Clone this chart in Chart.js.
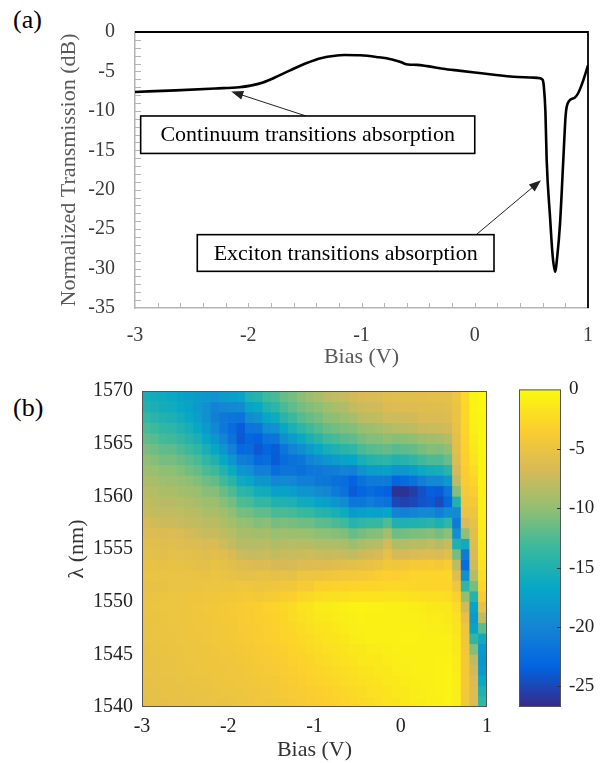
<!DOCTYPE html>
<html>
<head>
<meta charset="utf-8">
<script src="https://cdn.jsdelivr.net/npm/chart.js@4.4.0/dist/chart.umd.min.js"></script>
<style>
  body { margin: 0; background: #fff; width: 615px; height: 763px; position: relative; overflow: hidden;
         font-family: 'Liberation Serif', 'DejaVu Serif', serif; }
  canvas { position: absolute; }
  .tag { position: absolute; font-size: 26px; line-height: 1; color: #000; }
</style>
</head>
<body>
<div class="tag" style="left:13px; top:7px;">(a)</div>
<canvas id="transChart" width="615" height="370" style="left:0; top:0;"></canvas>
<div class="tag" style="left:13px; top:395px;">(b)</div>
<canvas id="mapChart" width="500" height="393" style="left:0; top:370px;"></canvas>
<canvas id="barChart" width="125" height="393" style="left:490px; top:370px;"></canvas>
<script>
/*
  Panel (a): transmission vs bias
*/
var biasLine = [-3, -2.64, -2.29, -2.08, -1.98, -1.87, -1.77, -1.63, -1.49, -1.36, -1.25, -1.15, -1.01, -0.87,
  -0.73, -0.65, -0.59, -0.51, -0.42, -0.28, -0.14, 0, 0.17, 0.34, 0.52, 0.576, 0.6, 0.61, 0.624, 0.635,
  0.665, 0.688, 0.709, 0.729, 0.753, 0.782, 0.803, 0.826, 0.885, 0.915, 0.959, 1.0];
var transLine = [-7.6, -7.4, -7.16, -7.0, -6.8, -6.4, -5.8, -4.86, -3.97, -3.32, -3.04, -2.91, -2.95, -3.16,
  -3.48, -3.85, -4.13, -4.17, -4.33, -4.65, -4.9, -5.14, -5.42, -5.67, -5.79, -5.87, -6.07, -6.9, -10.1, -16.2,
  -23.5, -28.4, -30.4, -28.4, -24.3, -16.2, -10.5, -8.9, -8.3, -7.7, -6.1, -4.25];

/*
  Panel (b): transmission map, one column per bias step, rows from 1569.5 nm down to 1540.5 nm
*/
var biasCenters = [-2.95, -2.85, -2.75, -2.65, -2.55, -2.45, -2.35, -2.25, -2.15, -2.05,
  -1.95, -1.85, -1.75, -1.65, -1.55, -1.45, -1.35, -1.25, -1.15, -1.05,
  -0.95, -0.85, -0.75, -0.65, -0.55, -0.45, -0.35, -0.25, -0.15, -0.05,
  0.05, 0.15, 0.25, 0.35, 0.45, 0.55, 0.65, 0.75, 0.85, 0.95];
var lambdaCenters = [1569.5, 1568.5, 1567.5, 1566.5, 1565.5, 1564.5, 1563.5, 1562.5, 1561.5, 1560.5,
  1559.5, 1558.5, 1557.5, 1556.5, 1555.5, 1554.5, 1553.5, 1552.5, 1551.5, 1550.5,
  1549.5, 1548.5, 1547.5, 1546.5, 1545.5, 1544.5, 1543.5, 1542.5, 1541.5, 1540.5];
var mapColumns = [
  [-15.5,-14.8,-13.8,-12.8,-11.8,-10.9,-10.1,-9.4,-8.8,-8.2,-7.8,-7.4,-6.7,-6.2,-5.8,-5.6,-5.3,-5.1,-5.4,-5.2,-5.1,-5.1,-5.2,-5.2,-5.3,-5.3,-5.4,-5.5,-5.5,-5.6],
  [-16.0,-15.3,-14.4,-13.3,-12.3,-11.4,-10.5,-9.7,-9.0,-8.5,-8.1,-7.7,-7.1,-6.3,-5.9,-5.7,-5.4,-5.2,-5.3,-5.1,-5.0,-5.1,-5.1,-5.1,-5.2,-5.3,-5.3,-5.4,-5.5,-5.5],
  [-16.2,-15.7,-14.8,-13.9,-12.9,-11.9,-11.0,-10.1,-9.4,-8.8,-8.3,-7.8,-7.3,-6.5,-6.0,-5.8,-5.5,-5.2,-5.3,-5.0,-4.9,-5.0,-5.0,-5.0,-5.1,-5.2,-5.2,-5.3,-5.4,-5.5],
  [-16.5,-16.0,-15.2,-14.2,-13.1,-12.0,-11.0,-10.2,-9.5,-8.8,-8.3,-7.8,-7.3,-6.4,-5.9,-5.6,-5.3,-5.1,-5.2,-4.9,-4.9,-4.9,-4.9,-5.0,-5.0,-5.1,-5.2,-5.3,-5.3,-5.4],
  [-17.0,-16.6,-15.8,-14.8,-13.7,-12.6,-11.5,-10.6,-9.8,-9.1,-8.5,-7.9,-7.5,-6.6,-6.1,-5.7,-5.4,-5.1,-5.2,-4.9,-4.8,-4.8,-4.9,-4.9,-5.0,-5.0,-5.1,-5.2,-5.3,-5.4],
  [-17.5,-17.3,-16.6,-15.6,-14.5,-13.3,-12.1,-11.2,-10.2,-9.4,-8.7,-8.1,-7.7,-6.9,-6.2,-5.7,-5.5,-5.2,-5.1,-4.8,-4.7,-4.7,-4.8,-4.8,-4.9,-4.9,-5.0,-5.1,-5.2,-5.3],
  [-17.9,-18.1,-17.5,-16.6,-15.4,-14.1,-12.8,-11.7,-10.7,-9.7,-9.0,-8.4,-7.9,-7.1,-6.3,-5.8,-5.6,-5.2,-5.0,-4.7,-4.6,-4.6,-4.6,-4.7,-4.8,-4.8,-4.9,-5.0,-5.1,-5.2],
  [-18.2,-19.0,-18.9,-18.1,-16.9,-15.4,-13.9,-12.6,-11.4,-10.4,-9.5,-8.8,-8.2,-7.6,-6.6,-6.1,-5.7,-5.3,-4.9,-4.6,-4.4,-4.5,-4.5,-4.6,-4.7,-4.7,-4.8,-5.0,-5.1,-5.2],
  [-18.6,-20.2,-20.6,-19.9,-18.5,-16.9,-15.0,-13.3,-11.9,-10.6,-9.6,-8.8,-8.1,-7.5,-6.5,-5.8,-5.3,-5.0,-4.9,-4.5,-4.3,-4.3,-4.4,-4.4,-4.5,-4.7,-4.8,-4.9,-5.0,-5.1],
  [-17.8,-20.0,-21.3,-21.3,-20.3,-18.5,-16.6,-14.7,-13.1,-11.6,-10.4,-9.4,-8.6,-8.0,-7.2,-6.1,-5.5,-5.2,-4.8,-4.4,-4.1,-4.2,-4.3,-4.3,-4.4,-4.6,-4.7,-4.8,-4.9,-5.1],
  [-17.6,-19.8,-21.7,-22.5,-21.9,-20.4,-18.4,-16.3,-14.3,-12.6,-11.2,-10.1,-9.2,-8.4,-7.7,-6.7,-5.9,-5.3,-4.7,-4.3,-4.0,-4.1,-4.1,-4.2,-4.3,-4.5,-4.6,-4.7,-4.9,-5.0],
  [-17.1,-19.4,-21.8,-23.7,-23.9,-22.8,-20.8,-18.5,-16.1,-14.2,-12.5,-11.0,-9.9,-9.0,-8.3,-7.4,-6.2,-5.5,-4.6,-4.1,-3.8,-3.9,-3.9,-4.0,-4.2,-4.3,-4.5,-4.6,-4.7,-4.9],
  [-15.0,-17.0,-19.4,-21.7,-23.0,-22.6,-21.1,-19.0,-16.7,-14.6,-12.8,-11.2,-10.0,-9.0,-8.3,-7.6,-6.3,-5.5,-4.5,-4.0,-3.6,-3.7,-3.8,-3.8,-4.0,-4.2,-4.3,-4.5,-4.6,-4.8],
  [-14.6,-16.5,-18.8,-21.4,-23.5,-24.0,-22.8,-20.7,-18.3,-15.8,-13.7,-11.8,-10.5,-9.3,-8.4,-7.6,-6.5,-5.4,-4.8,-4.1,-3.4,-3.5,-3.6,-3.7,-3.8,-4.0,-4.2,-4.3,-4.5,-4.6],
  [-13.2,-14.8,-16.8,-19.3,-21.8,-23.0,-22.4,-20.7,-18.4,-15.9,-13.8,-11.9,-10.3,-9.1,-8.2,-7.4,-6.4,-5.3,-4.7,-4.0,-3.2,-3.3,-3.4,-3.5,-3.7,-3.9,-4.0,-4.2,-4.4,-4.5],
  [-12.8,-14.2,-16.2,-18.8,-21.6,-23.7,-23.8,-22.4,-20.0,-17.4,-14.9,-12.8,-11.1,-9.7,-8.6,-7.8,-6.8,-5.5,-4.6,-3.8,-3.0,-3.1,-3.2,-3.3,-3.5,-3.7,-3.9,-4.1,-4.2,-4.4],
  [-11.6,-12.8,-14.4,-16.6,-19.2,-21.6,-22.5,-21.6,-19.6,-17.2,-14.8,-12.6,-10.8,-9.4,-8.3,-7.5,-6.8,-5.4,-4.4,-3.5,-2.6,-2.8,-2.9,-3.0,-3.3,-3.5,-3.7,-3.9,-4.0,-4.2],
  [-11.0,-11.9,-13.3,-15.2,-17.7,-20.3,-21.9,-21.6,-20.0,-17.6,-15.1,-12.9,-11.0,-9.6,-8.4,-7.5,-6.7,-5.5,-4.3,-3.3,-2.3,-2.4,-2.6,-2.8,-3.0,-3.2,-3.5,-3.7,-3.9,-4.0],
  [-10.3,-11.1,-12.3,-14.1,-16.5,-19.1,-21.4,-22.0,-20.7,-18.4,-15.9,-13.4,-11.3,-9.6,-8.3,-7.3,-6.4,-4.9,-3.9,-2.7,-1.9,-2.1,-2.3,-2.5,-2.8,-3.0,-3.2,-3.5,-3.7,-3.9],
  [-9.5,-10.6,-11.6,-13.1,-15.2,-17.7,-20.3,-21.5,-20.7,-18.6,-16.1,-13.5,-11.4,-9.7,-8.3,-7.2,-6.2,-4.8,-3.8,-2.5,-1.6,-1.8,-2.0,-2.3,-2.5,-2.8,-3.0,-3.2,-3.5,-3.7],
  [-9.0,-10.2,-11.1,-12.4,-14.3,-16.6,-19.4,-21.3,-21.3,-19.4,-17.0,-14.3,-12.0,-10.1,-8.6,-7.4,-6.3,-4.7,-3.2,-2.2,-1.2,-1.5,-1.7,-2.0,-2.3,-2.5,-2.8,-3.0,-3.3,-3.5],
  [-8.1,-9.4,-10.3,-11.5,-13.2,-15.5,-18.4,-20.9,-21.4,-20.0,-17.5,-14.7,-12.1,-10.2,-8.6,-7.5,-6.2,-4.6,-3.1,-2.1,-1.1,-1.3,-1.6,-1.8,-2.1,-2.3,-2.6,-2.8,-3.1,-3.3],
  [-7.9,-8.9,-10.1,-11.2,-12.8,-15.0,-17.8,-20.8,-22.0,-21.0,-18.4,-15.4,-12.7,-10.4,-8.7,-7.4,-6.0,-4.4,-3.0,-2.0,-1.0,-1.2,-1.4,-1.6,-1.9,-2.1,-2.4,-2.6,-2.9,-3.1],
  [-7.6,-8.6,-9.6,-10.8,-12.2,-14.3,-17.1,-20.2,-22.3,-21.9,-19.5,-16.2,-13.2,-10.7,-8.8,-7.5,-5.8,-4.2,-3.0,-1.9,-0.8,-1.0,-1.2,-1.4,-1.7,-1.9,-2.2,-2.4,-2.7,-2.9],
  [-7.0,-7.7,-9.2,-10.5,-11.9,-13.9,-16.8,-20.4,-23.4,-23.8,-21.4,-17.9,-14.5,-11.6,-9.5,-7.8,-5.7,-4.1,-2.9,-1.8,-0.7,-0.9,-1.0,-1.2,-1.5,-1.7,-2.0,-2.2,-2.5,-2.7],
  [-6.7,-7.3,-8.2,-9.8,-11.0,-12.8,-15.4,-18.8,-21.9,-23.0,-21.4,-17.5,-14.0,-11.0,-8.8,-7.3,-5.5,-4.0,-2.8,-1.7,-0.6,-0.7,-0.9,-1.0,-1.3,-1.5,-1.8,-2.0,-2.3,-2.5],
  [-6.6,-7.2,-8.0,-9.5,-10.6,-12.3,-14.7,-17.8,-21.1,-22.5,-20.8,-17.1,-13.6,-10.6,-8.5,-7.0,-5.3,-3.9,-2.8,-1.7,-0.7,-0.8,-0.8,-0.9,-1.2,-1.4,-1.6,-1.9,-2.1,-2.3],
  [-6.5,-7.0,-7.7,-9.2,-10.5,-12.0,-14.3,-17.6,-21.1,-23.0,-21.4,-17.4,-13.5,-10.4,-8.2,-6.7,-5.0,-3.5,-2.8,-1.7,-0.7,-0.8,-0.8,-0.9,-1.1,-1.3,-1.5,-1.7,-1.9,-2.1],
  [-6.0,-6.5,-7.2,-8.7,-10.1,-11.7,-14.1,-17.4,-21.2,-23.5,-21.9,-16.8,-12.4,-9.2,-6.9,-5.5,-4.3,-3.2,-2.7,-1.8,-0.8,-0.8,-0.8,-0.8,-1.0,-1.2,-1.3,-1.5,-1.7,-1.8],
  [-5.9,-6.4,-7.2,-8.4,-10.4,-12.2,-14.8,-18.5,-23.2,-26.3,-25.0,-20.3,-15.0,-11.3,-8.6,-6.9,-4.5,-3.3,-2.7,-1.8,-0.8,-0.8,-0.8,-0.8,-0.9,-1.0,-1.2,-1.3,-1.5,-1.6],
  [-5.9,-6.3,-7.1,-8.2,-10.3,-12.0,-14.5,-18.2,-22.7,-26.2,-25.3,-20.4,-15.1,-11.1,-8.5,-6.8,-4.4,-3.1,-2.7,-1.8,-0.9,-0.8,-0.8,-0.7,-0.8,-0.9,-1.0,-1.1,-1.3,-1.4],
  [-5.9,-6.2,-7.0,-8.1,-10.1,-11.7,-14.0,-17.5,-21.9,-25.5,-25.0,-20.2,-14.9,-10.8,-8.2,-6.5,-4.0,-2.9,-2.7,-1.9,-1.0,-0.9,-0.8,-0.7,-0.8,-0.9,-0.9,-1.0,-1.1,-1.2],
  [-5.8,-6.1,-6.6,-7.5,-9.6,-11.0,-13.1,-16.4,-20.6,-24.4,-24.3,-19.7,-14.7,-10.7,-8.1,-6.4,-4.0,-2.9,-2.8,-2.0,-1.1,-1.0,-0.9,-0.8,-0.8,-0.8,-0.8,-0.9,-1.0,-1.1],
  [-5.7,-6.0,-6.5,-7.4,-9.3,-10.6,-12.6,-15.7,-19.8,-23.6,-24.0,-19.7,-14.4,-10.4,-7.9,-6.2,-3.8,-2.8,-2.8,-2.0,-1.3,-1.1,-1.0,-0.8,-0.8,-0.8,-0.8,-0.8,-0.9,-0.9],
  [-5.7,-6.0,-6.5,-7.3,-9.1,-10.7,-12.6,-15.6,-19.7,-23.8,-24.8,-20.6,-15.2,-11.0,-8.3,-6.5,-4.1,-2.9,-2.9,-2.1,-1.4,-1.2,-1.0,-0.9,-0.8,-0.7,-0.7,-0.7,-0.7,-0.8],
  [-5.7,-5.9,-6.3,-7.0,-8.5,-10.1,-11.6,-14.3,-17.9,-21.7,-22.9,-19.3,-14.0,-10.2,-7.6,-5.9,-3.6,-2.7,-2.9,-2.2,-1.5,-1.3,-1.1,-0.9,-0.8,-0.7,-0.6,-0.6,-0.6,-0.6],
  [-4.8,-5.0,-5.2,-5.4,-5.6,-5.8,-6.2,-6.8,-8.0,-10.5,-15.0,-19.5,-21.0,-19.0,-15.0,-11.0,-8.0,-6.0,-4.5,-3.2,-2.4,-1.9,-1.6,-1.4,-1.3,-1.2,-1.1,-1.0,-1.0,-1.0],
  [-2.5,-2.6,-2.7,-2.8,-3.0,-3.1,-3.3,-3.5,-3.7,-4.0,-4.4,-5.0,-6.5,-10.0,-16.0,-21.0,-22.5,-19.0,-14.0,-10.0,-7.0,-5.5,-4.8,-4.5,-4.3,-4.2,-4.2,-4.2,-4.2,-4.3],
  [-0.5,-0.6,-0.7,-0.9,-1.1,-1.4,-1.8,-2.3,-2.9,-3.5,-4.2,-4.8,-5.3,-5.8,-6.2,-6.6,-7.2,-8.5,-11.0,-14.5,-17.0,-18.0,-17.0,-14.0,-10.5,-8.0,-7.0,-6.5,-6.4,-6.4],
  [-0.2,-0.2,-0.3,-0.3,-0.4,-0.4,-0.5,-0.5,-0.6,-0.7,-0.8,-0.9,-1.0,-1.1,-1.3,-1.5,-1.8,-2.2,-2.8,-3.8,-5.5,-8.0,-12.0,-16.0,-18.0,-18.5,-18.0,-16.5,-15.0,-14.0]
];

// colour bar range and ticks
var cbMin = -26.74;
var cbTicks = [-25, -20, -15, -10, -5, 0];
var parulaStops = ['#352a87', '#0363e1', '#1485d4', '#06a7c6', '#38b99e', '#92bf73', '#d9ba56', '#fcce2e', '#f9fb0e'];

var serif = "'Liberation Serif', 'DejaVu Serif', serif";
Chart.defaults.font.family = serif;

var parulaRgb = parulaStops.map(h => [parseInt(h.slice(1, 3), 16), parseInt(h.slice(3, 5), 16), parseInt(h.slice(5, 7), 16)]);

var parula = (v) => {
  var t = Math.max(0, Math.min(1, (v - cbMin) / (0 - cbMin))) * (parulaRgb.length - 1);
  var i = Math.min(Math.floor(t), parulaRgb.length - 2);
  var f = t - i;
  var a = parulaRgb[i], b = parulaRgb[i + 1];
  return 'rgb(' + [0, 1, 2].map(k => Math.round(a[k] + (b[k] - a[k]) * f)).join(',') + ')';
}

var arrowTo = (ctx, x1, y1, x2, y2) => {
  var ang = Math.atan2(y2 - y1, x2 - x1);
  var len = 12, half = 4.5;
  ctx.beginPath();
  ctx.moveTo(x1, y1);
  ctx.lineTo(x2 - Math.cos(ang) * len * 0.8, y2 - Math.sin(ang) * len * 0.8);
  ctx.stroke();
  ctx.beginPath();
  ctx.moveTo(x2, y2);
  ctx.lineTo(x2 - Math.cos(ang) * len - Math.sin(ang) * half, y2 - Math.sin(ang) * len + Math.cos(ang) * half);
  ctx.lineTo(x2 - Math.cos(ang) * len + Math.sin(ang) * half, y2 - Math.sin(ang) * len - Math.cos(ang) * half);
  ctx.closePath();
  ctx.fill();
}

/*
  panel (a) frame: grey inward ticks, black top/right edges, text boxes with arrows
*/
var frameA = {
  id: 'frameA',
  afterDatasetsDraw(chart, args, opts) {
    var ctx = chart.ctx, area = chart.chartArea, xs = chart.scales.x, ys = chart.scales.y;
    ctx.save();
    ctx.strokeStyle = '#b4b4b4';
    ctx.lineWidth = 1;
    ctx.beginPath();
    for (var v = -2.8; v < 0.99; v += 0.2) {
      var px = Math.round(xs.getPixelForValue(v)) + 0.5;
      ctx.moveTo(px, area.bottom);
      ctx.lineTo(px, area.bottom - 5);
    }
    for (var w = -34; w < 0; w += 1) {
      var py = Math.round(ys.getPixelForValue(w)) + 0.5;
      ctx.moveTo(area.left, py);
      ctx.lineTo(area.left + 6, py);
    }
    ctx.stroke();

    ctx.strokeStyle = '#000';
    ctx.lineWidth = 1.8;
    ctx.beginPath();
    ctx.moveTo(area.left, area.top);
    ctx.lineTo(area.right, area.top);
    ctx.lineTo(area.right, area.bottom);
    ctx.stroke();

    opts.notes.forEach(n => {
      ctx.strokeStyle = '#222';
      ctx.fillStyle = '#222';
      ctx.lineWidth = 1;
      arrowTo(ctx, xs.getPixelForValue(n.from[0]), ys.getPixelForValue(n.from[1]),
        xs.getPixelForValue(n.to[0]), ys.getPixelForValue(n.to[1]));
      var x0 = xs.getPixelForValue(n.box[0]), x1 = xs.getPixelForValue(n.box[1]);
      var y0 = ys.getPixelForValue(n.box[2]), y1 = ys.getPixelForValue(n.box[3]);
      ctx.fillStyle = '#fff';
      ctx.fillRect(x0, y0, x1 - x0, y1 - y0);
      ctx.strokeStyle = '#000';
      ctx.lineWidth = 1.6;
      ctx.strokeRect(x0, y0, x1 - x0, y1 - y0);
      ctx.fillStyle = '#000';
      ctx.font = '22px ' + serif;
      ctx.textAlign = 'center';
      ctx.textBaseline = 'middle';
      ctx.fillText(n.text, (x0 + x1) / 2, (y0 + y1) / 2 + 1);
    });
    ctx.restore();
  }
};

// thin box round a chart area, optional inward ticks on the right edge
var boxEdge = {
  id: 'boxEdge',
  afterDatasetsDraw(chart, args, opts) {
    var ctx = chart.ctx, area = chart.chartArea;
    ctx.save();
    ctx.strokeStyle = '#555';
    ctx.lineWidth = 1;
    ctx.strokeRect(area.left + 0.5, area.top + 0.5, area.right - area.left - 1, area.bottom - area.top - 1);
    if (opts.rightTicks) {
      ctx.strokeStyle = '#333';
      ctx.beginPath();
      opts.rightTicks.forEach(t => {
        var py = Math.round(chart.scales.y.getPixelForValue(t)) + 0.5;
        ctx.moveTo(area.right, py);
        ctx.lineTo(area.right - 4, py);
      });
      ctx.stroke();
    }
    ctx.restore();
  }
};

var plainLabel = (v) => String(v);

var transChart = new Chart(document.getElementById('transChart'), {
  type: 'line',
  data: {
    datasets: [{
      data: biasLine.map((b, i) => ({x: b, y: transLine[i]})),
      borderColor: '#000',
      borderWidth: 2.6,
      pointRadius: 0,
      cubicInterpolationMode: 'monotone',
      fill: false
    }]
  },
  options: {
    responsive: false,
    devicePixelRatio: 1,
    animation: false,
    layout: { padding: { left: 0, top: 20, right: 27, bottom: 0 } },
    plugins: {
      legend: { display: false },
      tooltip: { enabled: false },
      frameA: {
        notes: [
          { text: 'Continuum transitions absorption', box: [-2.95, 0.0, -10.65, -15.4], from: [-1.49, -10.65], to: [-2.15, -7.55] },
          { text: 'Exciton transitions absorption', box: [-2.45, 0.17, -25.7, -30.35], from: [0.013, -25.7], to: [0.585, -18.8] }
        ]
      }
    },
    scales: {
      x: {
        type: 'linear', min: -3, max: 1,
        afterFit: (s) => { s.height = 62; },
        grid: { display: false, drawTicks: false },
        border: { color: '#b4b4b4', width: 1.5 },
        ticks: { stepSize: 1, padding: 16, color: '#3a3a3a', font: { size: 20 }, callback: plainLabel },
        title: { display: true, text: 'Bias (V)', color: '#595959', font: { size: 22 }, padding: 0 }
      },
      y: {
        min: -35, max: 0,
        afterFit: (s) => { s.width = 135; },
        grid: { display: false, drawTicks: false },
        border: { color: '#b4b4b4', width: 1.5 },
        ticks: { stepSize: 5, padding: 20, color: '#3a3a3a', font: { size: 20 }, callback: plainLabel },
        title: { display: true, text: 'Normalized Transmission (dB)', color: '#595959', font: { size: 22 }, padding: { top: 56, bottom: 0 } }
      }
    }
  },
  plugins: [frameA]
});

var mapChart = new Chart(document.getElementById('mapChart'), {
  type: 'bar',
  data: {
    datasets: lambdaCenters.map((lam, r) => ({
      data: biasCenters.map(b => ({x: b, y: [lam - 0.5, lam + 0.5]})),
      backgroundColor: biasCenters.map((b, c) => parula(mapColumns[c][r])),
      borderWidth: 0,
      grouped: false,
      barPercentage: 1,
      categoryPercentage: 1
    }))
  },
  options: {
    responsive: false,
    devicePixelRatio: 1,
    animation: false,
    layout: { padding: { left: 0, top: 15, right: 6, bottom: 0 } },
    plugins: { legend: { display: false }, tooltip: { enabled: false }, boxEdge: {} },
    scales: {
      x: {
        type: 'linear', min: -3, max: 1, offset: false,
        afterFit: (s) => { s.height = 56; },
        grid: { display: false, drawTicks: false },
        border: { display: false },
        ticks: { stepSize: 1, padding: 8, color: '#222', font: { size: 20 }, callback: plainLabel },
        title: { display: true, text: 'Bias (V)', color: '#333', font: { size: 22 }, padding: 0 }
      },
      y: {
        type: 'linear', min: 1540, max: 1570, beginAtZero: false,
        afterFit: (s) => { s.width = 142; },
        grid: { display: false, drawTicks: false },
        border: { display: false },
        ticks: { stepSize: 5, padding: 9, color: '#222', font: { size: 20 }, callback: plainLabel },
        title: { display: true, text: 'λ (nm)', color: '#333', font: { size: 22 }, padding: { top: 64, bottom: 0 } }
      }
    }
  },
  plugins: [boxEdge]
});

var barChart = new Chart(document.getElementById('barChart'), {
  type: 'bar',
  data: {
    labels: ['dB'],
    datasets: [{
      data: [[cbMin, 0]],
      backgroundColor: (c) => {
        var area = c.chart.chartArea;
        if (!area) return parulaStops[0];
        var g = c.chart.ctx.createLinearGradient(0, area.bottom, 0, area.top);
        parulaStops.forEach((col, i) => g.addColorStop(i / (parulaStops.length - 1), col));
        return g;
      },
      borderWidth: 0,
      barPercentage: 1,
      categoryPercentage: 1
    }]
  },
  options: {
    responsive: false,
    devicePixelRatio: 1,
    animation: false,
    layout: { padding: { left: 29, top: 15, right: 0, bottom: 56 } },
    plugins: { legend: { display: false }, tooltip: { enabled: false }, boxEdge: { rightTicks: cbTicks.slice(0, 5) } },
    scales: {
      x: { display: false },
      y: {
        position: 'right', min: cbMin, max: 0, beginAtZero: false,
        afterBuildTicks: (s) => { s.ticks = cbTicks.map(v => ({value: v})); },
        afterFit: (s) => { s.width = 54; },
        grid: { display: false, drawTicks: false },
        border: { display: false },
        ticks: { padding: 8, color: '#222', font: { size: 19 }, callback: plainLabel }
      }
    }
  },
  plugins: [boxEdge]
});
</script>
</body>
</html>
